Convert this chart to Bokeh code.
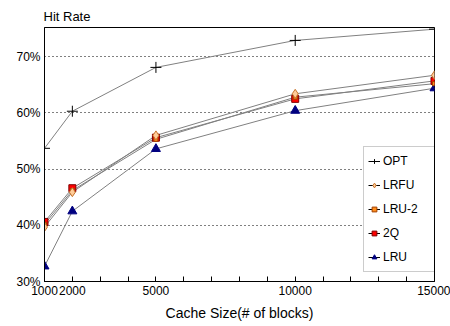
from bokeh.plotting import figure
from bokeh.models import FixedTicker, PrintfTickFormatter, Legend, LegendItem, Range1d
from bokeh.embed import file_html
from bokeh.resources import INLINE

cache_sizes = [1000, 2000, 5000, 10000, 15000]
opt = [53.7, 60.3, 68.1, 72.9, 74.9]
lrfu = [39.7, 45.9, 56.0, 63.4, 66.7]
lru2 = [40.2, 46.2, 55.3, 62.8, 65.2]
twoq = [40.6, 46.6, 55.6, 62.5, 65.7]
lru = [32.7, 42.5, 53.6, 60.4, 64.4]

x_ticks = list(range(1000, 16000, 1000))
x_labeled = [1000, 2000, 5000, 10000, 15000]
y_ticks = [30, 40, 50, 60, 70]

FONT = "Liberation Sans"

p = figure(width=450, height=326, output_backend="svg", toolbar_location=None,
           x_range=Range1d(1000, 15000), y_range=Range1d(30, 75.2),
           min_border_left=44, min_border_right=16, min_border_top=27, min_border_bottom=45)
p.title.text = "Hit Rate"
p.title.align = "left"
p.title.vertical_align = "top"
p.title.offset = -1
p.title.standoff = 4
p.title.text_font = FONT
p.title.text_font_size = "13px"
p.title.text_font_style = "normal"
p.title.text_color = "black"
p.background_fill_color = "white"
p.border_fill_color = "white"
p.outline_line_color = "black"
p.outline_line_width = 1

p.xgrid.visible = False
p.ygrid.grid_line_color = "black"
p.ygrid.grid_line_dash = "1 3"
p.ygrid.grid_line_width = 1

xa = p.xaxis[0]
xa.ticker = FixedTicker(ticks=x_ticks)
xa.major_label_overrides = {t: (str(t) if t in x_labeled else "") for t in x_ticks}
xa.major_tick_in = 5
xa.major_tick_out = 0
xa.minor_tick_line_color = None
xa.axis_line_color = "black"
xa.major_tick_line_color = "black"
xa.major_label_text_font = FONT
xa.major_label_text_font_size = "12px"
xa.major_label_text_color = "black"
xa.major_label_standoff = 4
xa.axis_label = "Cache Size(# of blocks)"
xa.axis_label_text_font = FONT
xa.axis_label_text_font_size = "14px"
xa.axis_label_text_font_style = "normal"
xa.axis_label_text_color = "black"
xa.axis_label_standoff = 7

ya = p.yaxis[0]
ya.ticker = FixedTicker(ticks=y_ticks)
ya.formatter = PrintfTickFormatter(format="%d%%")
ya.major_tick_in = 0
ya.major_tick_out = 0
ya.minor_tick_line_color = None
ya.axis_line_color = "black"
ya.major_label_text_font = FONT
ya.major_label_text_font_size = "12px"
ya.major_label_text_color = "black"
ya.major_label_standoff = 4

LINE = "#808080"
series = [
    ("OPT", opt, dict(marker="cross", size=11, line_color="black", fill_color=None, line_width=1)),
    ("LRFU", lrfu, dict(marker="diamond", size=9, line_color="#C8742C", fill_color="#FFCC99", line_width=1)),
    ("LRU-2", lru2, dict(marker="square", size=4, line_color="#A04000", fill_color="#FF8C1A", line_width=1)),
    ("2Q", twoq, dict(marker="square", size=7, line_color="#800000", fill_color="#FF0000", line_width=1)),
    ("LRU", lru, dict(marker="triangle", size=9, line_color="#000080", fill_color="#000080", line_width=1)),
]

for name, vals, _ in series:
    p.line(cache_sizes, vals, line_color=LINE, line_width=1)

scatters = {}
for name, vals, mk in series[::-1]:
    scatters[name] = p.scatter(cache_sizes, vals, **mk)

items = []
for name, vals, _ in series:
    # single-point line: draws nothing on the plot, provides the black legend stroke
    proxy = p.line(cache_sizes[:1], vals[:1], line_color="black", line_width=1)
    items.append(LegendItem(label=name, renderers=[proxy, scatters[name]]))

legend = Legend(items=items, location=(319, 9), orientation="vertical",
                label_text_font=FONT, label_text_font_size="12px", label_text_color="black",
                glyph_width=12, glyph_height=20, label_height=20, label_width=48,
                label_standoff=3, spacing=4, padding=4, margin=0,
                border_line_color="#999999", border_line_width=1,
                background_fill_color="white", background_fill_alpha=1)
p.add_layout(legend, "center")

open("out.html", "w").write(file_html(p, INLINE))
